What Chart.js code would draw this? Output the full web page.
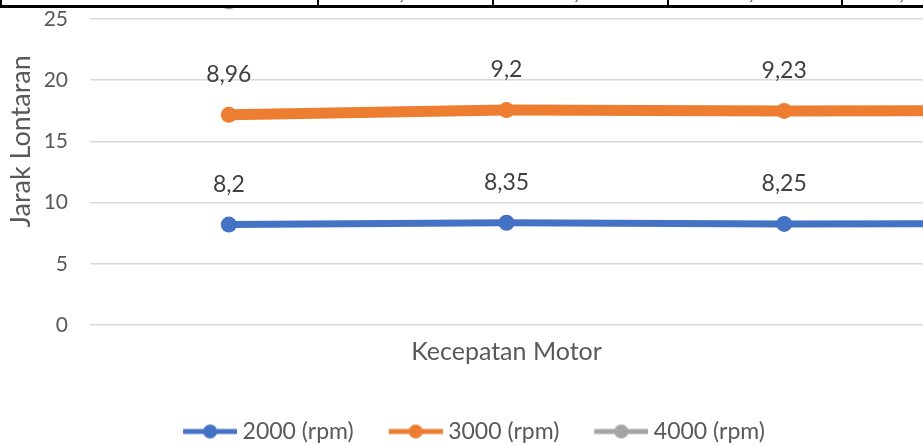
<!DOCTYPE html>
<html>
<head>
<meta charset="utf-8">
<script src="https://cdn.jsdelivr.net/npm/chart.js@4.4.1/dist/chart.umd.min.js"></script>
<style>
  html, body { margin: 0; padding: 0; background: #fff; overflow: hidden; width: 923px; height: 446px; }
  #wrap { position: absolute; left: 0; top: -77px; width: 923px; height: 530px; }
  #tbl { position: absolute; left: 0; top: -16px; width: 960px; border-collapse: collapse; background: #fff;
         font-family: "Liberation Serif", serif; font-size: 16px; color: #000; z-index: 2; }
  #tbl td { height: 21px; padding: 0; text-align: center; border-left: 2px solid #000; border-bottom: 3px solid #000; }
</style>
</head>
<body>
<table id="tbl"><tr id="tblRow"></tr></table>
<div id="wrap"><canvas id="chart"></canvas></div>
<script>
// x positions are category numbers 1..4 (the 4th is cut off at the right edge)
const categories = [1, 2, 3, 4];
const rpm2000 = [8.2, 8.35, 8.25, 8.3];
const rpm3000 = [8.96, 9.2, 9.23, 9.2];
const rpm4000 = [9.25, 9.35, 9.45, 9.5];
const seriesNames = ["2000 (rpm)", "3000 (rpm)", "4000 (rpm)"];
const yTicks = [0, 5, 10, 15, 20, 25, 30];

const fmt = v => String(v).replace(".", ",");

// the cut-off table row above the chart
const cellWidths = [305, 178, 178, 178, 120];
const cells = ["4000"].concat(rpm4000.map(fmt));
const row = document.getElementById("tblRow");
cells.forEach((t, i) => {
    const td = document.createElement("td");
    td.style.width = cellWidths[i] + "px";
    if (i === 0) td.style.paddingLeft = "20px";
    td.textContent = t;
    row.appendChild(td);
});

function legendIcon(color) {
    const c = document.createElement("canvas");
    c.width = 85; c.height = 16;
    const g = c.getContext("2d");
    g.strokeStyle = color; g.lineWidth = 5;
    g.beginPath(); g.moveTo(31, 8); g.lineTo(85, 8); g.stroke();
    g.fillStyle = color;
    g.beginPath(); g.arc(58, 8, 7, 0, Math.PI * 2); g.fill();
    return c;
}

const colors = ["#4472C4", "#ED7D31", "#A5A5A5"];
const icons = colors.map(legendIcon);

const dataLabels = {
    id: "dataLabels",
    afterDatasetsDraw(chart) {
        const ctx = chart.ctx;
        const area = chart.chartArea;
        ctx.save();
        ctx.font = "23px Lato";
        ctx.fillStyle = "#404040";
        ctx.textAlign = "center";
        ctx.textBaseline = "middle";
        chart.data.datasets.forEach((ds, i) => {
            chart.getDatasetMeta(i).data.forEach((pt, j) => {
                if (pt.x > area.right) return;
                ctx.fillText(fmt(ds.raw[j]), pt.x, pt.y - 40);
            });
        });
        ctx.restore();
    }
};

function makeSet(name, values, color, width) {
    return {
        label: name,
        raw: values,
        data: values.map((v, i) => ({ x: categories[i], y: v })),
        borderColor: color,
        backgroundColor: color,
        borderWidth: width,
        pointRadius: 8,
        pointBorderWidth: 0,
        pointBackgroundColor: color,
        tension: 0
    };
}

const ctx = document.getElementById("chart").getContext("2d");

new Chart(ctx, {
    type: "line",
    data: {
        datasets: [
            makeSet(seriesNames[0], rpm2000, colors[0], 7),
            makeSet(seriesNames[1], rpm3000, colors[1], 11),
            makeSet(seriesNames[2], rpm4000, colors[2], 8)
        ]
    },
    plugins: [dataLabels],
    options: {
        responsive: true,
        maintainAspectRatio: false,
        animation: false,
        layout: { autoPadding: false, padding: { top: 8, left: 0, right: 0, bottom: 0 } },
        plugins: {
            tooltip: { enabled: false },
            legend: {
                position: "bottom",
                labels: {
                    usePointStyle: true,
                    pointStyleWidth: 73,
                    padding: 10,
                    color: "#595959",
                    font: { family: "Lato", size: 23 },
                    generateLabels: chart => chart.data.datasets.map((ds, i) => ({
                        text: ds.label,
                        pointStyle: icons[i],
                        fontColor: "#595959",
                        lineWidth: 0,
                        strokeStyle: "transparent",
                        fillStyle: "transparent",
                        datasetIndex: i
                    }))
                }
            }
        },
        scales: {
            x: {
                type: "linear",
                min: 0.5,
                max: 3.5,
                ticks: { display: false },
                grid: { display: false },
                border: { display: false },
                title: {
                    display: true,
                    text: "Kecepatan Motor",
                    color: "#595959",
                    font: { family: "Lato", size: 25 },
                    padding: { top: 4, bottom: 43 }
                }
            },
            y: {
                stacked: true,
                min: 0,
                max: 30,
                afterBuildTicks: s => { s.ticks = yTicks.map(v => ({ value: v })); },
                afterFit: s => { s.width = 90; },
                ticks: { color: "#595959", font: { family: "Lato", size: 21 }, padding: 22 },
                grid: { color: "#d9d9d9", lineWidth: 1.5, drawTicks: false },
                border: { display: false },
                title: {
                    display: true,
                    text: "Jarak Lontaran",
                    color: "#595959",
                    font: { family: "Lato", size: 27 },
                    padding: { top: 5, bottom: 0 }
                }
            }
        }
    }
});
</script>
</body>
</html>
